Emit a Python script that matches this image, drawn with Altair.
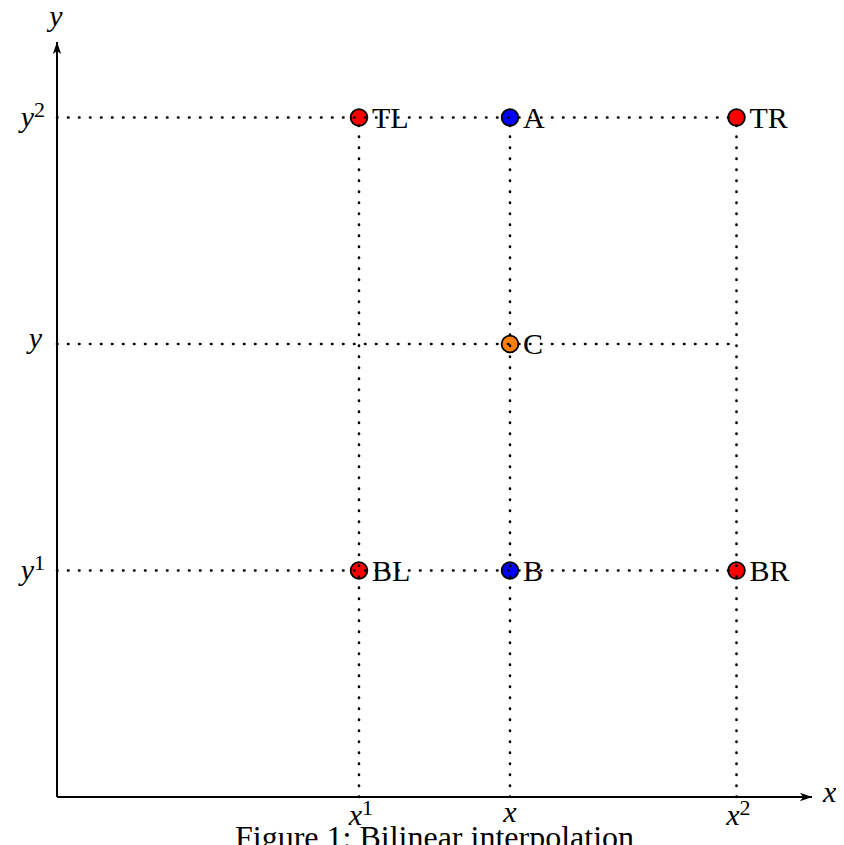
import altair as alt
import pandas as pd

# ---- data ----
point_labels = ["TL", "A", "TR", "C", "BL", "B", "BR"]
point_x = [4, 6, 9, 6, 4, 6, 9]
point_y = [9, 9, 9, 6, 3, 3, 3]
point_kind = ["corner", "proj", "corner", "target", "corner", "proj", "corner"]
kind_names = ["corner", "proj", "target"]
kind_colors = ["#ff0000", "#0000ff", "#ff8000"]

grid_x = [4, 6, 9]
grid_y = [3, 6, 9]
grid_end = 9
axis_max = 10

x_tick_base = ["x", "x", "x"]
x_tick_sup = ["1", "", "2"]
y_tick_base = ["y", "y", "y"]
y_tick_sup = ["1", "", "2"]

x_axis_title = "x"
y_axis_title = "y"
caption = "Figure 1: Bilinear interpolation"

SERIF = "Liberation Serif"
FS = 30
SUP_FS = 22

xs = alt.Scale(domain=[0, axis_max], nice=False, zero=False)
ys = alt.Scale(domain=[0, axis_max], nice=False, zero=False)

points_df = pd.DataFrame({"x": point_x, "y": point_y, "label": point_labels, "kind": point_kind})
axis_df = pd.DataFrame({"x": [0], "x2": [axis_max], "y": [0], "y2": [axis_max]})
vgrid_df = pd.DataFrame({"x": grid_x, "y": [0] * 3, "y2": [grid_end] * 3})
hgrid_df = pd.DataFrame({"y": grid_y, "x": [0] * 3, "x2": [grid_end] * 3})
xt_df = pd.DataFrame({"x": grid_x, "y": [0] * 3, "base": x_tick_base, "sup": x_tick_sup})
yt_df = pd.DataFrame({"y": grid_y, "x": [0] * 3, "base": y_tick_base, "sup": y_tick_sup})
xarrow_df = pd.DataFrame({"x": [axis_max], "y": [0]})
yarrow_df = pd.DataFrame({"x": [0], "y": [axis_max]})
xtitle_df = pd.DataFrame({"x": [axis_max], "y": [0], "t": [x_axis_title]})
ytitle_df = pd.DataFrame({"x": [0], "y": [axis_max], "t": [y_axis_title]})

X = lambda f="x": alt.X(f"{f}:Q", scale=xs, axis=None)
Y = lambda f="y": alt.Y(f"{f}:Q", scale=ys, axis=None)

x_axis = alt.Chart(axis_df).mark_rule(color="black", strokeWidth=2).encode(
    x=X(), x2="x2:Q", y=Y())
y_axis = alt.Chart(axis_df).mark_rule(color="black", strokeWidth=2).encode(
    x=X(), y=Y(), y2="y2:Q")

x_head = alt.Chart(xarrow_df).mark_point(
    shape="M 0 0 L -2 -0.7 L -1.5 0 L -2 0.7 Z", size=144, filled=True,
    color="black", opacity=1, strokeWidth=0).encode(x=X(), y=Y())
y_head = alt.Chart(yarrow_df).mark_point(
    shape="M 0 0 L -0.7 2 L 0 1.5 L 0.7 2 Z", size=144, filled=True,
    color="black", opacity=1, strokeWidth=0).encode(x=X(), y=Y())

pts = alt.Chart(points_df).mark_circle(size=280, stroke="black", strokeWidth=1.8, opacity=1).encode(
    x=X(), y=Y(),
    color=alt.Color("kind:N", scale=alt.Scale(domain=kind_names, range=kind_colors), legend=None))

dot = dict(color="black", strokeWidth=2.6, strokeDash=[0.5, 10.5], strokeCap="round")
vgrid = alt.Chart(vgrid_df).mark_rule(**dot).encode(x=X(), y=Y(), y2="y2:Q")
hgrid = alt.Chart(hgrid_df).mark_rule(**dot).encode(y=Y(), x=X(), x2="x2:Q")

plabels = alt.Chart(points_df).mark_text(
    font=SERIF, fontSize=FS, align="left", baseline="alphabetic", dx=13, dy=10, color="black"
).encode(x=X(), y=Y(), text="label:N")

math = dict(font=SERIF, fontSize=FS, fontStyle="italic", color="black", baseline="alphabetic")
sup = dict(font=SERIF, fontSize=SUP_FS, color="black", baseline="alphabetic")

xt_base_s = alt.Chart(xt_df).transform_filter("datum.sup != ''").mark_text(
    align="right", dx=3, dy=28, **math).encode(x=X(), y=Y(), text="base:N")
xt_sup = alt.Chart(xt_df).transform_filter("datum.sup != ''").mark_text(
    align="left", dx=3, dy=18, **sup).encode(x=X(), y=Y(), text="sup:N")
xt_plain = alt.Chart(xt_df).transform_filter("datum.sup == ''").mark_text(
    align="center", dy=25, **math).encode(x=X(), y=Y(), text="base:N")

yt_base_s = alt.Chart(yt_df).transform_filter("datum.sup != ''").mark_text(
    align="right", dx=-23, dy=9, **math).encode(x=X(), y=Y(), text="base:N")
yt_sup = alt.Chart(yt_df).transform_filter("datum.sup != ''").mark_text(
    align="left", dx=-23, dy=-1, **sup).encode(x=X(), y=Y(), text="sup:N")
yt_plain = alt.Chart(yt_df).transform_filter("datum.sup == ''").mark_text(
    align="right", dx=-15, dy=4, **math).encode(x=X(), y=Y(), text="base:N")

x_title = alt.Chart(xtitle_df).mark_text(align="left", dx=11, dy=5, **math).encode(
    x=X(), y=Y(), text="t:N")
y_title = alt.Chart(ytitle_df).mark_text(align="center", dx=-1, dy=-16, **math).encode(
    x=X(), y=Y(), text="t:N")

chart = alt.layer(
    x_axis, y_axis, x_head, y_head, pts, vgrid, hgrid, plabels,
    xt_base_s, xt_sup, xt_plain, yt_base_s, yt_sup, yt_plain, x_title, y_title
).properties(
    width=755, height=755,
    padding={"left": 49, "top": 34, "right": 24, "bottom": 48},
    autosize="none",
    background="white",
    title=alt.TitleParams(caption, orient="bottom", anchor="middle", font=SERIF,
                          fontSize=32, fontWeight="normal", color="black",
                          baseline="alphabetic", offset=17),
).configure_view(stroke=None)

chart.save("out.html", embed_options={"renderer": "svg", "actions": False})
